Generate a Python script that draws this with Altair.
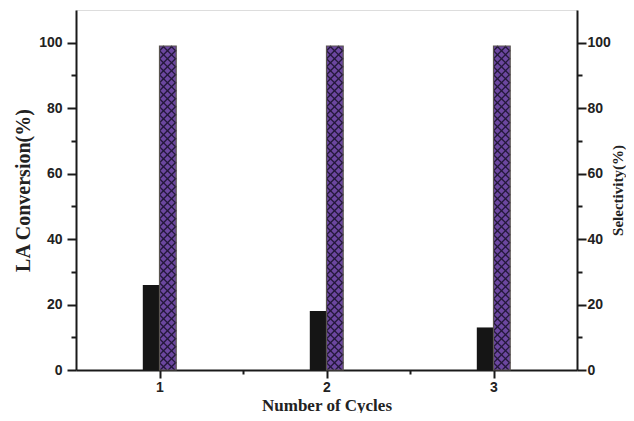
import altair as alt
import pandas as pd
import numpy as np

# ---- data ----
cycles = [1, 2, 3]
conversion = [26, 18, 13]      # LA conversion (%), black bars
selectivity = [99, 99, 99]     # selectivity (%), purple cross-hatched bars
y_ticks = [0, 20, 40, 60, 80, 100]
y_minor = [10, 30, 50, 70, 90]
x_ticks = [1, 2, 3]
x_minor = [1.5, 2.5]

BAR_W = 0.1
W, H = 501, 360
X_DOM = [0.5, 3.5]
Y_DOM = [0, 110]

df = pd.DataFrame({"cycle": cycles, "conv": conversion, "sel": selectivity})

# ---- cross-hatch lines for the selectivity bars (derived from data) ----
px_x = W / (X_DOM[1] - X_DOM[0])
px_y = H / (Y_DOM[1] - Y_DOM[0])
k = px_x / px_y                 # 45 degrees in data units
rise = k * BAR_W
step = 8.0 / px_y
segs = []
for c, top in zip(cycles, selectivity):
    x0 = c
    for direction in (1, -1):
        starts = np.arange(-rise, top + rise, step)
        for s in starts:
            ya = s
            yb = s + direction * rise
            dy = yb - ya
            ta = (0 - ya) / dy
            tb = (top - ya) / dy
            lo, hi = min(ta, tb), max(ta, tb)
            t0, t1 = max(0.0, lo), min(1.0, hi)
            if t1 - t0 <= 0.02:
                continue
            segs.append({
                "x": x0 + t0 * BAR_W, "x2": x0 + t1 * BAR_W,
                "y": ya + t0 * dy, "y2": ya + t1 * dy,
            })
hatch = pd.DataFrame(segs)

AX = "#1a1a1a"
xs = alt.Scale(domain=X_DOM, nice=False, zero=False)
ys = alt.Scale(domain=Y_DOM, nice=False)

common = dict(domainColor=AX, domainWidth=2, tickColor=AX, tickWidth=2, grid=False,
              labelFont="Liberation Sans", labelFontWeight="bold",
              labelFontSize=14, labelColor="#222222",
              titleFont="Liberation Serif", titleFontWeight="bold",
              titleColor="#222222")

x_axis = alt.Axis(values=x_ticks + x_minor, title="Number of Cycles",
                  labelExpr="datum.value % 1 == 0 ? format(datum.value, 'd') : ''",
                  tickSize={"condition": {"test": "datum.value % 1 == 0", "value": 8}, "value": 4},
                  labelPadding=2, titlePadding=3, titleFontSize=17, **common)

yl_axis = alt.Axis(values=y_ticks + y_minor, title="LA Conversion(%)", orient="left",
                   labelExpr="datum.value % 20 == 0 ? datum.label : ''",
                   tickSize={"condition": {"test": "datum.value % 20 == 0", "value": 9}, "value": 5},
                   labelPadding=5, titlePadding=5, titleFontSize=20, **common)

yr_axis = alt.Axis(values=y_ticks + y_minor, title="Selectivity(%)", orient="right",
                   labelExpr="datum.value % 20 == 0 ? datum.label : ''",
                   tickSize={"condition": {"test": "datum.value % 20 == 0", "value": 9}, "value": 5},
                   labelPadding=1, titlePadding=0, titleAngle=270, titleBaseline="top",
                   titleFontSize=15, **common)

base = alt.Chart(df)

black = base.transform_calculate(x0=f"datum.cycle - {BAR_W}").mark_bar(
    color="#151515"
).encode(
    x=alt.X("x0:Q", scale=xs, axis=x_axis),
    x2="cycle:Q",
    y=alt.Y("conv:Q", scale=ys, axis=yl_axis),
    y2=alt.datum(0),
)

purple = base.transform_calculate(x1=f"datum.cycle + {BAR_W}").mark_bar(
    color="#6c47a0"
).encode(
    x=alt.X("cycle:Q", scale=xs, axis=x_axis),
    x2="x1:Q",
    y=alt.Y("sel:Q", scale=ys, axis=yr_axis),
    y2=alt.datum(0),
)

hatch_layer = alt.Chart(hatch).mark_rule(color="#24183a", strokeWidth=1.3).encode(
    x=alt.X("x:Q", scale=xs, axis=x_axis),
    x2="x2:Q",
    y=alt.Y("y:Q", scale=ys, axis=None),
    y2="y2:Q",
)

outline = base.transform_calculate(x1=f"datum.cycle + {BAR_W}").mark_bar(
    fillOpacity=0, stroke="#5a5550", strokeWidth=1.2
).encode(
    x=alt.X("cycle:Q", scale=xs, axis=x_axis),
    x2="x1:Q",
    y=alt.Y("sel:Q", scale=ys, axis=None),
    y2=alt.datum(0),
)

chart = alt.layer(black, purple, hatch_layer, outline).resolve_scale(
    y="independent"
).properties(
    width=W, height=H,
    autosize=alt.AutoSizeParams(type="none"),
    padding={"left": 68, "top": 2, "right": 49, "bottom": 43},
).configure_view(stroke=AX, strokeWidth=2).configure(background="white")

chart.save("out.html", embed_options={"renderer": "svg", "actions": False})
